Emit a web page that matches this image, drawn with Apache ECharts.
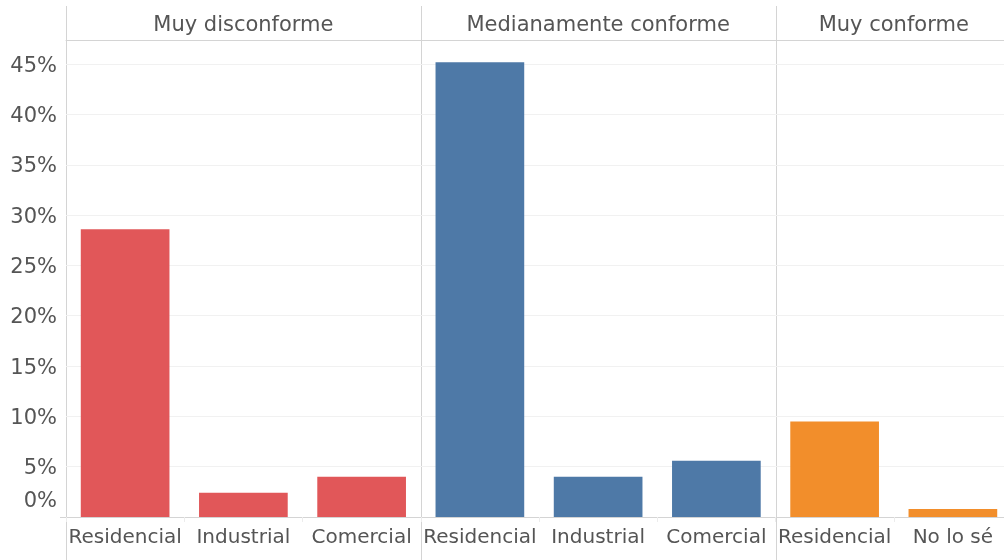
<!DOCTYPE html>
<html>
<head>
<meta charset="utf-8">
<script src="https://cdn.jsdelivr.net/npm/echarts@6/dist/echarts.min.js"></script>
<style>
  html, body { margin: 0; padding: 0; background: #fff; overflow: hidden; }
  /* un poco mas ancho que la ventana: el ultimo panel queda recortado */
  #chart { width: 1012px; height: 560px; }
</style>
</head>
<body>
<div id="chart"></div>
<script>
// grupos (paneles) y categorias
const panels = ['Muy disconforme', 'Medianamente conforme', 'Muy conforme']
const cats1 = ['Residencial', 'Industrial', 'Comercial']
const cats2 = ['Residencial', 'Industrial', 'Comercial']
const cats3 = ['Residencial', 'No lo sé']
// porcentajes
const vals1 = [28.6, 2.4, 4.0]
const vals2 = [45.2, 4.0, 5.6]
const vals3 = [9.5, 0.8]
const colors = ['#E15759', '#4E79A7', '#F28E2B']

const FONT = '"DejaVu Sans", sans-serif'
const TXT = '#555'
const LINE = '#d4d4d4'

// layout
const left0 = 66, top0 = 40, base = 517, catW = 118.25
const allCats = [cats1, cats2, cats3]
const allVals = [vals1, vals2, vals3]

let chart = echarts.init(document.getElementById('chart'))

let grids = [], xAxes = [], yAxes = [], series = [], graphics = []
let x = left0
allCats.forEach((cats, i) => {
  let w = cats.length * catW
  grids.push({ left: x, top: top0, width: w, height: base - top0 })
  // categorias abajo
  xAxes.push({
    type: 'category', gridIndex: i, data: cats, position: 'bottom',
    axisLine: { show: true, lineStyle: { color: LINE, width: 1 } },
    axisTick: { show: true, length: 5, lineStyle: { color: '#ececec' } },
    axisLabel: { interval: 0, color: TXT, fontFamily: FONT, fontSize: 20, margin: 11 }
  })
  // titulo del panel arriba
  xAxes.push({
    type: 'category', gridIndex: i, data: [panels[i]], position: 'top',
    axisLine: { show: true, lineStyle: { color: LINE, width: 1 } },
    axisTick: { show: false },
    axisLabel: { interval: 0, color: TXT, fontFamily: FONT, fontSize: 21, margin: 4 }
  })
  yAxes.push({
    type: 'value', gridIndex: i, min: 0, max: 47.4, interval: 5,
    axisLine: { show: false }, axisTick: { show: false },
    splitLine: { show: true, lineStyle: { color: '#f1f1f1' } },
    axisLabel: {
      show: i === 0, showMaxLabel: false, color: TXT, fontFamily: FONT, fontSize: 21, margin: 9,
      padding: [4, 0, 0, 0],
      formatter: v => v === 0 ? '{z|0%}' : v + '%',
      rich: { z: { color: TXT, fontFamily: FONT, fontSize: 21, padding: [0, 0, 34, 0] } }
    }
  })
  series.push({
    type: 'bar', xAxisIndex: i * 2, yAxisIndex: i, data: allVals[i],
    barWidth: '75%',
    itemStyle: { color: colors[i] },
    silent: true
  })
  // separadores verticales
  graphics.push({
    type: 'line', shape: { x1: Math.round(x) + 0.5, y1: 6, x2: Math.round(x) + 0.5, y2: 560 },
    style: { stroke: LINE, lineWidth: 1 }
  })
  x += w
})
graphics.push({
  type: 'line', shape: { x1: 60, y1: base + 0.5, x2: left0, y2: base + 0.5 },
  style: { stroke: LINE, lineWidth: 1 }
})

chart.setOption({
  animation: false,
  grid: grids,
  xAxis: xAxes,
  yAxis: yAxes,
  series: series,
  graphic: graphics
})
</script>
</body>
</html>
